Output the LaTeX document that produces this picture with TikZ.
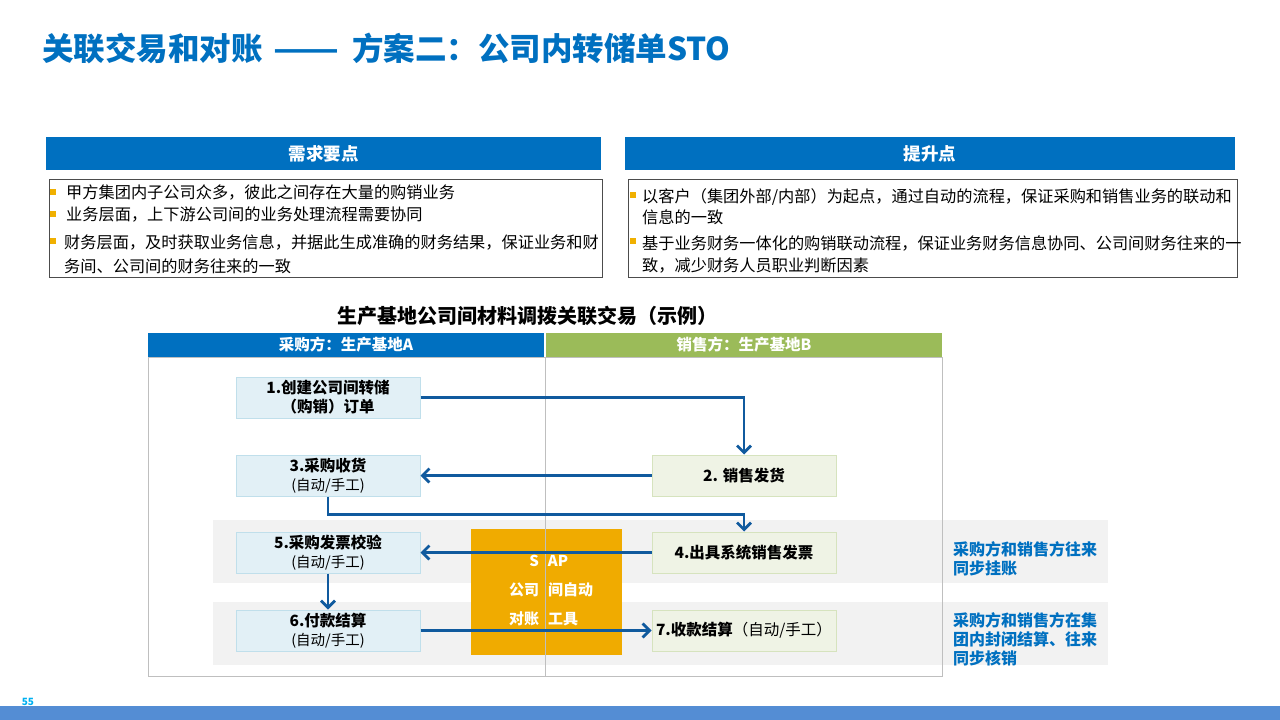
\documentclass[tikz,border=0pt]{standalone}
\usepackage{fontspec}
\setmainfont{Noto Sans CJK SC}
\usepackage{tikz}
\usetikzlibrary{arrows.meta}
\definecolor{titleblue}{RGB}{0,112,192}
\definecolor{sagegreen}{RGB}{155,187,89}
\definecolor{flowblue}{RGB}{16,90,158}
\definecolor{sapgold}{RGB}{240,171,0}
\definecolor{bulletgold}{RGB}{240,176,0}
\definecolor{buyfill}{RGB}{226,240,246}
\definecolor{buyline}{RGB}{192,223,235}
\definecolor{sellfill}{RGB}{239,243,229}
\definecolor{sellline}{RGB}{214,227,190}
\definecolor{bandgray}{RGB}{242,242,242}
\definecolor{framegray}{RGB}{191,191,191}
\definecolor{footblue}{RGB}{84,141,212}
\definecolor{pagecyan}{RGB}{0,176,240}
\tikzset
{
  headbar/.style={fill=titleblue,text=white,inner sep=0pt,minimum height=33pt,font=\fontsize{17.5}{20}\selectfont\bfseries},
  textframe/.style={draw=black!70,line width=1pt,inner sep=0pt,minimum height=98pt},
  bodytext/.style={anchor=west,inner sep=0pt,align=left,font=\fontsize{16.2}{24}\selectfont},
  bulletsq/.style={fill=bulletgold,inner sep=0pt,minimum size=6pt},
  colhead/.style={text=white,inner sep=0pt,minimum width=396pt,minimum height=24pt,font=\fontsize{15.5}{18}\selectfont\bfseries},
  buybox/.style={draw=buyline,fill=buyfill,line width=1pt,minimum width=184pt,minimum height=41pt,inner sep=0pt,align=center,font=\fontsize{15.5}{19}\selectfont\bfseries},
  sellbox/.style={buybox,draw=sellline,fill=sellfill},
  flow/.style={draw=flowblue,line width=2.8pt,-{Straight Barb[length=7pt,width=14pt]}},
  note/.style={anchor=west,inner sep=0pt,align=left,text=titleblue,font=\fontsize{16}{19}\selectfont\bfseries}
}
\newcommand{\hand}[1]{{\mdseries\fontsize{14.5}{19}\selectfont #1}}

\begin{document}
\begin{tikzpicture}[x=1pt,y=-1pt]
  \useasboundingbox (0,0) rectangle (1280,720);

  % Title
  \node[anchor=west,inner sep=0pt,text=titleblue,font=\fontsize{31.5}{36}\selectfont\bfseries] (title) at (42,48) {关联交易和对账\hspace{0.35em}\scalebox{1.22}[1]{——}\hspace{0.4em}方案二：公司内转储单STO};

  % Requirement panel
  \node[headbar,minimum width=555pt] (needhead) at (323.5,153.5) {需求要点};
  \node[textframe,minimum width=553pt] (needbox) at (325.5,228) {};
  \node[bulletsq] (nb1) at (53,192) {};
  \node[bulletsq] (nb2) at (53,214) {};
  \node[bulletsq] (nb3) at (53,241) {};
  \node[bodytext] (nt1) at (66,193) {甲方集团内子公司众多，彼此之间存在大量的购销业务};
  \node[bodytext] (nt2) at (66,215) {业务层面，上下游公司间的业务处理流程需要协同};
  \node[bodytext] (nt3) at (64,254) {财务层面，及时获取业务信息，并据此生成准确的财务结果，保证业务和财\\务间、公司间的财务往来的一致};

  % Improvement panel
  \node[headbar,minimum width=610pt] (gainhead) at (930,153.5) {提升点};
  \node[textframe,minimum width=609pt] (gainbox) at (932.5,228) {};
  \node[bulletsq] (gb1) at (633,195) {};
  \node[bulletsq] (gb2) at (633,241) {};
  \node[bodytext,font=\fontsize{16.2}{21}\selectfont] (gt1) at (642,207) {以客户（集团外部/内部）为起点，通过自动的流程，保证采购和销售业务的联动和\\信息的一致};
  \node[bodytext,font=\fontsize{16.2}{22}\selectfont] (gt2) at (642,254) {基于业务财务一体化的购销联动流程，保证业务财务信息协同、公司间财务往来的一\\致，减少财务人员职业判断因素};

  % Example flow
  \node[inner sep=0pt,font=\fontsize{20}{24}\selectfont\bfseries] (flowtitle) at (527,316) {生产基地公司间材料调拨关联交易（示例）};
  \fill[bandgray] (213,520) rectangle (1108,583);
  \fill[bandgray] (213,602) rectangle (1108,665);
  \draw[framegray,line width=1pt] (148,357) rectangle (942,676);
  \node[colhead,fill=titleblue] (buyhead) at (346,345) {采购方：生产基地A};
  \node[colhead,fill=sagegreen] (sellhead) at (744,345) {销售方：生产基地B};

  \node[fill=sapgold,minimum width=151pt,minimum height=126pt,inner sep=0pt] (sap) at (546.5,592) {};
  \draw[framegray,line width=1pt] (545,357) -- (545,676);
  \node[text=white,inner sep=0pt,font=\fontsize{15}{18}\selectfont\bfseries] (saptext) at (551,592)
    {\begin{tabular}{@{}r@{\hspace{9pt}}l@{}}S&AP\\[11pt]公司&间自动\\[11pt]对账&工具\end{tabular}};

  \node[buybox] (b1) at (328,397.5) {1.创建公司间转储\\（购销）订单};
  \node[sellbox] (b2) at (744,475.5) {2. 销售发货};
  \node[buybox] (b3) at (328,475.5) {3.采购收货\\\hand{(自动/手工)}};
  \node[sellbox] (b4) at (744,552.5) {4.出具系统销售发票};
  \node[buybox] (b5) at (328,552.5) {5.采购发票校验\\\hand{(自动/手工)}};
  \node[buybox] (b6) at (328,630.5) {6.付款结算\\\hand{(自动/手工)}};
  \node[sellbox] (b7) at (744,630.5) {7.收款结算\hand{\fontsize{15.5}{19}\selectfont（自动/手工）}};

  \draw[flow] (b1.east) -| (b2.north);
  \draw[flow] (b2.west) -- (b3.east);
  \draw[flow] (b3.south) -- ++(0,18) -| (b4.north);
  \draw[flow] (b4.west) -- (b5.east);
  \draw[flow] (b5.south) -- (b6.north);
  \draw[flow] (b6.east) -- (b7.west);

  \node[note] (note1) at (953,559) {采购方和销售方往来\\同步挂账};
  \node[note] (note2) at (953,639) {采购方和销售方在集\\团内封闭结算、往来\\同步核销};

  % Footer
  \fill[footblue] (0,706) rectangle (1280,720);
  \node[inner sep=0pt,text=pagecyan,font=\fontsize{10}{12}\selectfont\bfseries] (page) at (28,702) {55};
\end{tikzpicture}
\end{document}
